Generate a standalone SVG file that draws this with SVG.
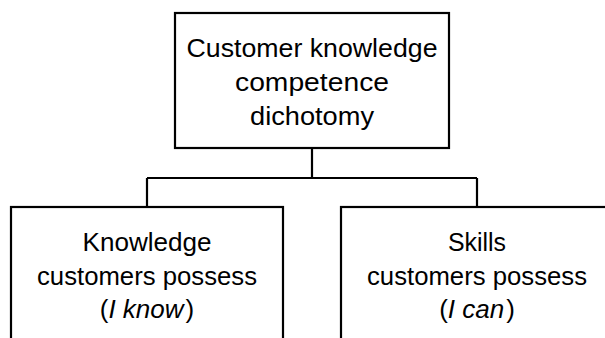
<svg xmlns="http://www.w3.org/2000/svg" width="605" height="338" viewBox="0 0 605 338">
<style>
.box{fill:#fff;stroke:#000;stroke-width:2.2}
.con{fill:none;stroke:#000;stroke-width:2.2}
text{font-family:"Liberation Sans",Arial,sans-serif;font-size:26px;fill:#000;text-anchor:middle}
.i{font-style:italic}
</style>
<rect width="605" height="338" fill="#fff"/>
<g id="connectors">
<path class="con" d="M312 148V178M147 178H477M147 178V207M477 178V207"/>
</g>
<g id="root">
<rect class="box" x="175" y="13" width="274" height="135"/>
<text x="312" y="57" textLength="251" lengthAdjust="spacingAndGlyphs">Customer knowledge</text>
<text x="312" y="91" textLength="154" lengthAdjust="spacingAndGlyphs">competence</text>
<text x="312" y="125" textLength="124" lengthAdjust="spacingAndGlyphs">dichotomy</text>
</g>
<g id="knowledge">
<rect class="box" x="11" y="207" width="272" height="200"/>
<text x="147" y="251" textLength="129" lengthAdjust="spacingAndGlyphs">Knowledge</text>
<text x="147" y="285" textLength="220" lengthAdjust="spacingAndGlyphs">customers possess</text>
<text x="147" y="318">(<tspan class="i">I know</tspan><tspan dx="2">)</tspan></text>
</g>
<g id="skills">
<rect class="box" x="341" y="207" width="272" height="200"/>
<text x="477" y="251" textLength="58" lengthAdjust="spacingAndGlyphs">Skills</text>
<text x="477" y="285" textLength="220" lengthAdjust="spacingAndGlyphs">customers possess</text>
<text x="477" y="318">(<tspan class="i">I can</tspan><tspan dx="2">)</tspan></text>
</g>
</svg>
